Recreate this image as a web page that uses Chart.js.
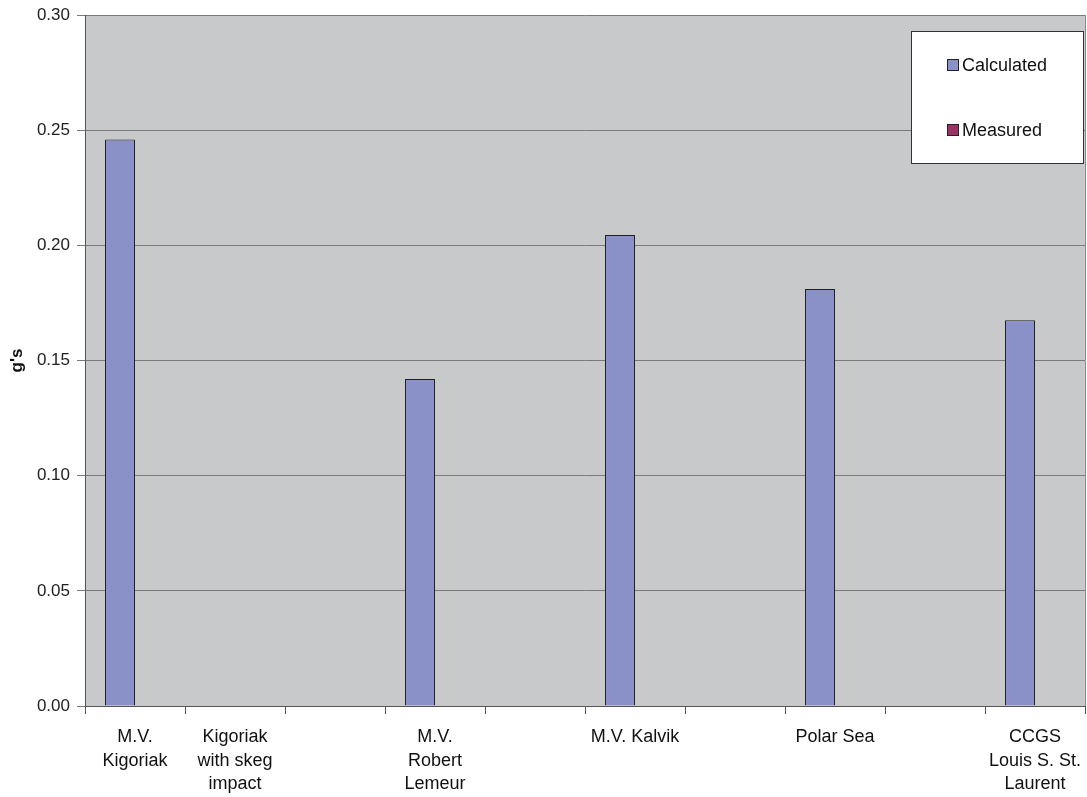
<!DOCTYPE html>
<html>
<head>
<meta charset="utf-8">
<script src="https://cdn.jsdelivr.net/npm/chart.js@4"></script>
<style>
  html, body { margin: 0; padding: 0; background: #fff; }
  #wrap { width: 1087px; height: 797px; position: relative; }
</style>
</head>
<body>
<div id="wrap"><canvas id="chart"></canvas></div>
<script>
const categories = [
  ["M.V.", "Kigoriak"],
  ["Kigoriak", "with skeg", "impact"],
  "",
  ["M.V.", "Robert", "Lemeur"],
  "",
  "M.V. Kalvik",
  "",
  "Polar Sea",
  "",
  ["CCGS", "Louis S. St.", "Laurent"]
];
const calculated = [0.246, null, null, 0.142, null, 0.2045, null, 0.181, null, 0.1675];
const measured = [null, null, null, null, null, null, null, null, null, null];
const yTicks = [0, 0.05, 0.10, 0.15, 0.20, 0.25, 0.30];

const FONT = "Liberation Sans, Arial, sans-serif";

// grey plot area + right border
const plotBg = {
  id: "plotBg",
  beforeDraw(chart) {
    const { ctx, chartArea: a } = chart;
    ctx.save();
    ctx.fillStyle = "#c8c9cb";
    ctx.fillRect(a.left, a.top, a.right - a.left, a.bottom - a.top);
    ctx.strokeStyle = "#8a8a8a";
    ctx.lineWidth = 1;
    ctx.beginPath();
    ctx.moveTo(a.right + 0.5, a.top);
    ctx.lineTo(a.right + 0.5, a.bottom);
    ctx.stroke();
    ctx.restore();
  }
};

// boxed legend inside the plot, like the spreadsheet original
const boxLegend = {
  id: "boxLegend",
  afterDraw(chart) {
    const { ctx } = chart;
    const x = 911, y = 31, w = 172, h = 132;
    ctx.save();
    ctx.fillStyle = "#fff";
    ctx.fillRect(x, y, w, h);
    ctx.strokeStyle = "#333";
    ctx.lineWidth = 1;
    ctx.strokeRect(x + 0.5, y + 0.5, w, h);
    ctx.font = "18px " + FONT;
    ctx.textBaseline = "middle";
    chart.data.datasets.forEach((ds, i) => {
      const cy = y + 34 + i * 65;
      ctx.fillStyle = ds.backgroundColor;
      ctx.fillRect(x + 36, cy - 6, 12, 12);
      ctx.strokeStyle = "#222";
      ctx.strokeRect(x + 36.5, cy - 5.5, 11, 11);
      ctx.fillStyle = "#111";
      ctx.fillText(ds.label, x + 51, cy + 1);
    });
    ctx.restore();
  }
};

new Chart(document.getElementById("chart"), {
  type: "bar",
  data: {
    labels: categories,
    datasets: [
      {
        label: "Calculated",
        data: calculated,
        backgroundColor: "#8a90c8",
        borderColor: "#222",
        borderWidth: 1,
        borderSkipped: "bottom"
      },
      {
        label: "Measured",
        data: measured,
        backgroundColor: "#993366",
        borderColor: "#222",
        borderWidth: 1,
        borderSkipped: "bottom"
      }
    ]
  },
  options: {
    responsive: true,
    maintainAspectRatio: false,
    animation: false,
    categoryPercentage: 0.6,
    barPercentage: 1.0,
    layout: { padding: { top: 15, right: 2, left: 0, bottom: 0 } },
    plugins: {
      legend: { display: false },
      tooltip: { enabled: false }
    },
    scales: {
      x: {
        offset: true,
        grid: {
          offset: true,
          drawOnChartArea: false,
          color: "#555",
          tickLength: 8
        },
        border: { color: "#555" },
        ticks: {
          autoSkip: false,
          maxRotation: 0,
          color: "#111",
          padding: 12,
          font: { family: FONT, size: 18, lineHeight: 1.28 }
        },
        afterFit(scale) {
          scale.height = 91;
          scale.paddingLeft = 0;
          scale.paddingRight = 0;
        }
      },
      y: {
        min: 0,
        max: 0.3,
        afterBuildTicks(scale) { scale.ticks = yTicks.map(v => ({ value: v })); },
        grid: {
          color: "#7a7a7a",
          tickLength: 8
        },
        border: { color: "#555" },
        ticks: {
          color: "#222",
          padding: 7,
          font: { family: FONT, size: 17 },
          callback: v => v.toFixed(2)
        },
        title: {
          display: true,
          text: "g's",
          color: "#111",
          padding: { top: 7, bottom: 0 },
          font: { family: FONT, size: 17, weight: "bold" }
        },
        afterFit(scale) {
          scale.width = 85;
          scale.paddingTop = 0;
          scale.paddingBottom = 0;
        }
      }
    }
  },
  plugins: [plotBg, boxLegend]
});
</script>
</body>
</html>
